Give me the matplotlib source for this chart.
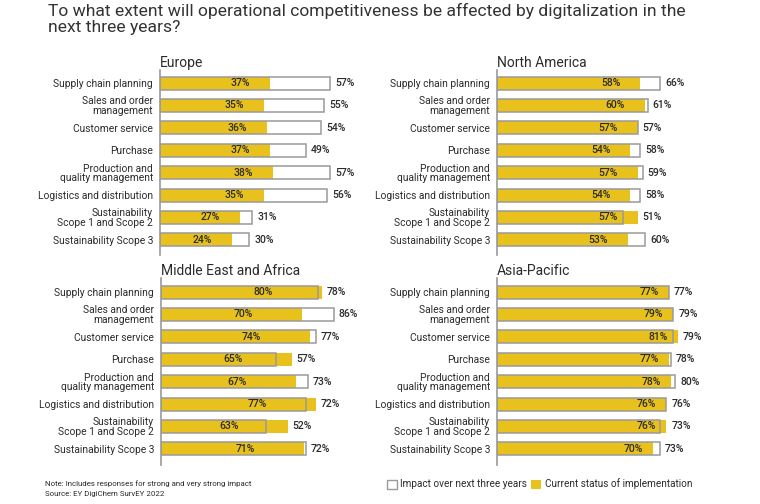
import matplotlib.pyplot as plt
from matplotlib.patches import Patch

plt.rcParams['font.family'] = ['Roboto', 'DejaVu Sans']

# data
categories = ["Supply chain planning", "Sales and order\nmanagement", "Customer service",
              "Purchase", "Production and\nquality management", "Logistics and distribution",
              "Sustainability\nScope 1 and Scope 2", "Sustainability Scope 3"]
regions = ["Europe", "North America", "Middle East and Africa", "Asia-Pacific"]

europe_impact = [57, 55, 54, 49, 57, 56, 31, 30]
europe_current = [37, 35, 36, 37, 38, 35, 27, 24]
na_impact = [66, 61, 57, 58, 59, 58, 51, 60]
na_current = [58, 60, 57, 54, 57, 54, 57, 53]
mea_impact = [78, 86, 77, 57, 73, 72, 52, 72]
mea_current = [80, 70, 74, 65, 67, 77, 63, 71]
apac_impact = [77, 79, 79, 78, 80, 76, 73, 73]
apac_current = [77, 79, 81, 77, 78, 76, 76, 70]

impacts = [europe_impact, na_impact, mea_impact, apac_impact]
currents = [europe_current, na_current, mea_current, apac_current]

YELLOW = '#E8C11C'
GREY = '#9a9a9a'
TXT = '#2b2b2b'

W, H = 760, 504
fig = plt.figure(figsize=(W / 100, H / 100), dpi=100)

# per panel: left px, top px, bottom px, px per percent, first bar centre px, label offset px
panels = [
    (160, 70, 255, 2.98, 83, -20),
    (497, 70, 255, 2.47, 83, -20),
    (161, 278, 465, 2.01, 292, -49),
    (497, 278, 465, 2.23, 292, -10),
]
step = 22.4
n = len(categories)

for k, (left, top, bot, scale, first, off) in enumerate(panels):
    width = 240 if left > 400 else 205
    ax = fig.add_axes([left / W, 1 - bot / H, width / W, (bot - top) / H])
    y = list(range(n))
    imp = impacts[k]
    cur = currents[k]
    bh = 13 / step
    ax.barh(y, imp, height=bh, color='white', edgecolor='none', zorder=1)
    ax.barh(y, cur, height=bh, color=YELLOW, edgecolor='none', zorder=2)
    ax.barh(y, imp, height=bh, color='none', edgecolor=GREY, linewidth=1.1, zorder=3)
    for i in range(n):
        ax.annotate(f"{cur[i]}%", (cur[i], i), xytext=(off, 0), textcoords='offset pixels',
                    ha='right', va='center', fontsize=7.5, fontweight='medium',
                    color=TXT, zorder=4)
        ax.annotate(f"{imp[i]}%", (max(cur[i], imp[i]), i), xytext=(5, 0),
                    textcoords='offset pixels', ha='left', va='center', fontsize=7.5,
                    fontweight='medium', color=TXT, zorder=4)
    ax.set_xlim(0, width / scale)
    ax.set_ylim(n - 1 + (bot - (first + step * (n - 1))) / step, -(first - top) / step)
    ax.set_yticks(y)
    ax.set_yticklabels(categories, fontsize=7.4, color=TXT, linespacing=0.95)
    ax.tick_params(axis='y', length=0, pad=5)
    ax.set_xticks([])
    for s in ['top', 'right', 'bottom']:
        ax.spines[s].set_visible(False)
    ax.spines['left'].set_color(GREY)
    ax.spines['left'].set_linewidth(1.2)
    ax.text(0, 1.0, regions[k], transform=ax.transAxes, ha='left', va='bottom',
            fontsize=10, color=TXT)

fig.text(48 / W, 1 - 3 / H,
         "To what extent will operational competitiveness be affected by digitalization in the\nnext three years?",
         ha='left', va='top', fontsize=12.6, color='#333333', linespacing=1.05)

fig.text(45 / W, 1 - 484 / H, "Note: Includes responses for strong and very strong impact",
         ha='left', va='center', fontsize=5.7, color=TXT)
fig.text(45 / W, 1 - 494 / H, "Source: EY DigiChem SurvEY 2022",
         ha='left', va='center', fontsize=5.7, color=TXT)

handles = [Patch(facecolor='white', edgecolor=GREY, label='Impact over next three years'),
           Patch(facecolor=YELLOW, edgecolor='none', label='Current status of implementation')]
fig.legend(handles=handles, loc='center left', bbox_to_anchor=(378 / W, 1 - 484 / H),
           ncol=2, frameon=False, fontsize=7.2, handlelength=1.0, handleheight=1.0,
           handletextpad=0.35, columnspacing=0.4, labelcolor=TXT)

fig.savefig('out.png', dpi=100, facecolor='white')
